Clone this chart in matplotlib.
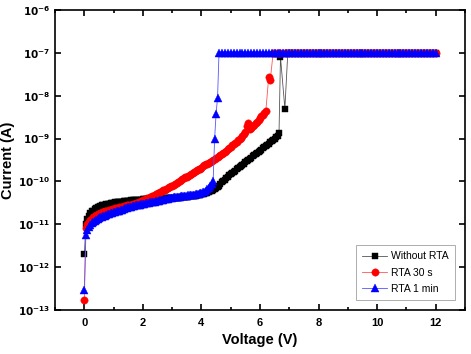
import matplotlib
matplotlib.use("Agg")
import matplotlib.pyplot as plt
from matplotlib.ticker import NullLocator

plt.rcParams['font.family'] = ['Liberation Sans', 'DejaVu Sans']

COMPLIANCE = 1e-7
STEP = 0.05  # sweep step of the low-current part

# Without RTA, 0 .. 6.65 V
i_black = [2e-12, 1.0e-11, 1.3e-11, 1.6e-11, 1.8e-11, 2.0e-11, 2.1e-11, 2.25e-11, 2.4e-11, 2.5e-11,
           2.6e-11, 2.7e-11, 2.8e-11, 2.85e-11, 2.9e-11, 2.95e-11, 3.0e-11, 3.05e-11, 3.1e-11, 3.15e-11,
           3.2e-11,
           3.25e-11, 3.3e-11, 3.35e-11, 3.4e-11, 3.4e-11, 3.4e-11, 3.45e-11, 3.5e-11, 3.5e-11, 3.5e-11,
           3.55e-11, 3.6e-11, 3.6e-11, 3.6e-11, 3.65e-11, 3.7e-11, 3.7e-11, 3.7e-11, 3.75e-11, 3.8e-11,
           3.8e-11, 3.8e-11, 3.82e-11, 3.85e-11, 3.88e-11, 3.9e-11, 3.9e-11, 3.9e-11, 3.92e-11, 3.95e-11,
           3.95e-11, 4.0e-11, 4.0e-11, 4.0e-11, 4.02e-11, 4.05e-11, 4.08e-11, 4.1e-11, 4.1e-11, 4.1e-11,
           4.12e-11, 4.15e-11, 4.18e-11, 4.2e-11, 4.22e-11, 4.25e-11, 4.28e-11, 4.3e-11, 4.35e-11, 4.4e-11,
           4.45e-11, 4.5e-11, 4.55e-11, 4.6e-11, 4.65e-11, 4.7e-11, 4.78e-11, 4.85e-11, 4.92e-11, 5.0e-11,
           5.1e-11, 5.2e-11, 5.35e-11, 5.5e-11, 5.7e-11, 5.9e-11, 6.15e-11, 6.4e-11, 6.75e-11, 7.1e-11,
           7.55e-11, 8.0e-11,
           8.7e-11, 9.5e-11, 1.02e-10, 1.1e-10, 1.19e-10, 1.28e-10, 1.39e-10, 1.5e-10,
           1.6e-10, 1.7e-10, 1.8e-10, 1.9e-10, 2.02e-10, 2.15e-10, 2.3e-10, 2.45e-10, 2.62e-10, 2.8e-10,
           3.0e-10, 3.2e-10, 3.4e-10, 3.6e-10, 3.85e-10, 4.1e-10, 4.35e-10, 4.6e-10, 4.9e-10, 5.2e-10,
           5.55e-10, 5.9e-10, 6.3e-10, 6.7e-10, 7.15e-10, 7.6e-10, 8.1e-10, 8.7e-10, 9.3e-10, 1.0e-9,
           1.07e-9, 1.15e-9, 1.35e-9]
v_black_jump = [6.7, 6.85, 6.95]
i_black_jump = [8e-8, 5e-9, COMPLIANCE]

# RTA 30 s, 0 .. 6.2 V
i_red = [1.7e-13, 8e-12, 1.0e-11, 1.15e-11, 1.25e-11, 1.35e-11, 1.45e-11, 1.55e-11, 1.62e-11, 1.7e-11,
         1.76e-11, 1.83e-11, 1.9e-11, 1.95e-11, 2.0e-11, 2.05e-11, 2.1e-11, 2.15e-11, 2.2e-11, 2.25e-11,
         2.3e-11,
         2.35e-11, 2.4e-11, 2.45e-11, 2.5e-11, 2.55e-11, 2.6e-11, 2.65e-11, 2.7e-11, 2.75e-11, 2.8e-11,
         2.85e-11, 2.9e-11, 2.95e-11, 3.0e-11, 3.1e-11, 3.2e-11, 3.3e-11, 3.4e-11, 3.5e-11, 3.6e-11,
         3.75e-11, 3.9e-11, 4.05e-11, 4.2e-11, 4.35e-11, 4.5e-11, 4.7e-11, 4.9e-11, 5.1e-11, 5.3e-11,
         5.5e-11, 5.7e-11, 5.95e-11, 6.2e-11, 6.45e-11, 6.7e-11, 7.0e-11, 7.3e-11, 7.65e-11, 8.0e-11,
         8.4e-11, 8.8e-11, 9.2e-11, 9.7e-11, 1.02e-10, 1.07e-10, 1.12e-10, 1.18e-10, 1.24e-10, 1.3e-10,
         1.36e-10, 1.43e-10, 1.5e-10, 1.57e-10, 1.65e-10, 1.73e-10, 1.81e-10, 1.9e-10, 2.0e-10, 2.1e-10,
         2.25e-10, 2.4e-10, 2.5e-10, 2.6e-10, 2.75e-10, 2.9e-10, 3.05e-10, 3.2e-10, 3.35e-10, 3.5e-10,
         3.7e-10, 3.9e-10, 4.15e-10, 4.4e-10, 4.65e-10, 4.9e-10, 5.25e-10, 5.6e-10, 6.0e-10, 6.4e-10,
         6.9e-10, 7.4e-10, 7.9e-10, 8.5e-10, 9.1e-10, 9.7e-10, 1.05e-9, 1.15e-9, 1.25e-9, 1.4e-9,
         2.0e-9, 2.3e-9, 1.7e-9, 1.8e-9, 1.95e-9, 2.1e-9, 2.3e-9, 2.5e-9, 2.75e-9, 3.0e-9,
         3.3e-9, 3.6e-9, 4.0e-9, 4.5e-9]
v_red_jump = [6.3, 6.35, 6.45]
i_red_jump = [2.8e-8, 2.3e-8, COMPLIANCE]

# RTA 1 min, 0 .. 4.4 V
i_blue = [3e-13, 5.5e-12, 7.5e-12, 8.5e-12, 9.5e-12, 1.05e-11, 1.12e-11, 1.2e-11, 1.27e-11, 1.33e-11,
          1.4e-11, 1.45e-11, 1.5e-11, 1.55e-11, 1.6e-11, 1.65e-11, 1.7e-11, 1.75e-11, 1.8e-11, 1.85e-11,
          1.9e-11,
          1.95e-11, 2.0e-11, 2.05e-11, 2.1e-11, 2.15e-11, 2.2e-11, 2.27e-11, 2.35e-11, 2.42e-11, 2.5e-11,
          2.55e-11, 2.6e-11, 2.65e-11, 2.7e-11, 2.75e-11, 2.8e-11, 2.85e-11, 2.9e-11, 2.95e-11, 3.0e-11,
          3.05e-11, 3.1e-11, 3.15e-11, 3.2e-11, 3.25e-11, 3.3e-11, 3.35e-11, 3.4e-11, 3.45e-11, 3.5e-11,
          3.55e-11, 3.6e-11, 3.67e-11, 3.75e-11, 3.82e-11, 3.9e-11, 3.97e-11, 4.05e-11, 4.12e-11, 4.2e-11,
          4.25e-11, 4.3e-11, 4.35e-11, 4.4e-11, 4.45e-11, 4.5e-11, 4.55e-11, 4.6e-11, 4.65e-11, 4.7e-11,
          4.75e-11, 4.8e-11, 4.85e-11, 4.9e-11, 4.95e-11, 5.0e-11, 5.1e-11, 5.2e-11, 5.3e-11, 5.4e-11,
          5.6e-11, 5.8e-11, 6.1e-11, 6.5e-11, 7.1e-11, 7.8e-11, 8.8e-11, 1.05e-10]
v_blue_jump = [4.45, 4.5, 4.55, 4.6]
i_blue_jump = [1e-9, 3.8e-9, 9e-9, COMPLIANCE]

# after switching on, every sweep sits at the compliance current up to 12 V
v_flat = [round(0.1 * k, 1) for k in range(46, 121)]


def build(i_low, v_jump, i_jump):
    v = [round(STEP * k, 2) for k in range(len(i_low))] + v_jump
    i = list(i_low) + i_jump
    v_top = [x for x in v_flat if x > v[-1]]
    return v + v_top, i + [COMPLIANCE] * len(v_top)


series = [
    ("Without RTA", build(i_black, v_black_jump, i_black_jump), "black", "#555555", "s", 4.8),
    ("RTA 30 s", build(i_red, v_red_jump, i_red_jump), "red", "#ff5555", "o", 5.3),
    ("RTA 1 min", build(i_blue, v_blue_jump, i_blue_jump), "blue", "#5555ff", "^", 5.6),
]

y_ticks = [1e-13, 1e-12, 1e-11, 1e-10, 1e-9, 1e-8, 1e-7, 1e-6]
y_labels = [r"$\mathbf{10^{-13}}$", r"$\mathbf{10^{-12}}$", r"$\mathbf{10^{-11}}$",
            r"$\mathbf{10^{-10}}$", r"$\mathbf{10^{-9}}$", r"$\mathbf{10^{-8}}$",
            r"$\mathbf{10^{-7}}$", r"$\mathbf{10^{-6}}$"]
x_ticks = [0, 2, 4, 6, 8, 10, 12]

fig = plt.figure(figsize=(4.71, 3.54), dpi=100)
ax = fig.add_axes([0.117, 0.124, 0.870, 0.848])

for label, (v, i), c, lc, m, ms in series:
    ax.plot(v, i, color=lc, lw=0.6, marker=m, ms=ms,
            mfc=c, mec=c, mew=0.3, label=label)

ax.set_yscale("log")
ax.set_ylim(1e-13, 1e-6)
ax.set_xlim(-1, 13)
ax.set_yticks(y_ticks)
ax.set_yticklabels(y_labels, fontsize=7.5)
ax.yaxis.set_minor_locator(NullLocator())
ax.set_xticks(x_ticks)
ax.set_xticklabels([str(t) for t in x_ticks], fontweight="bold", fontsize=8)
ax.set_xticks(range(-1, 14), minor=True)

ax.tick_params(which="both", direction="in", top=True, right=True, width=1.2)
ax.tick_params(which="major", length=4.5)
ax.tick_params(axis="x", which="major", pad=6)
ax.tick_params(which="minor", length=2.5)
for s in ax.spines.values():
    s.set_linewidth(1.2)

ax.set_xlabel("Voltage (V)", fontsize=10.5, fontweight="bold")
ax.set_ylabel("Current (A)", fontsize=10.5, fontweight="bold")
ax.xaxis.set_label_coords(0.5, -0.075, transform=ax.transAxes)
ax.xaxis.label.set_va("top")
ax.yaxis.set_label_coords(-0.098, 0.5, transform=ax.transAxes)

leg = ax.legend(loc="lower right", bbox_to_anchor=(0.976, 0.033), borderaxespad=0,
                fontsize=7.5, frameon=True, fancybox=False, edgecolor="#888888",
                handlelength=2.4, borderpad=0.6, labelspacing=0.6, handletextpad=0.4)
leg.get_frame().set_linewidth(0.6)

fig.savefig("out.png", dpi=100)
